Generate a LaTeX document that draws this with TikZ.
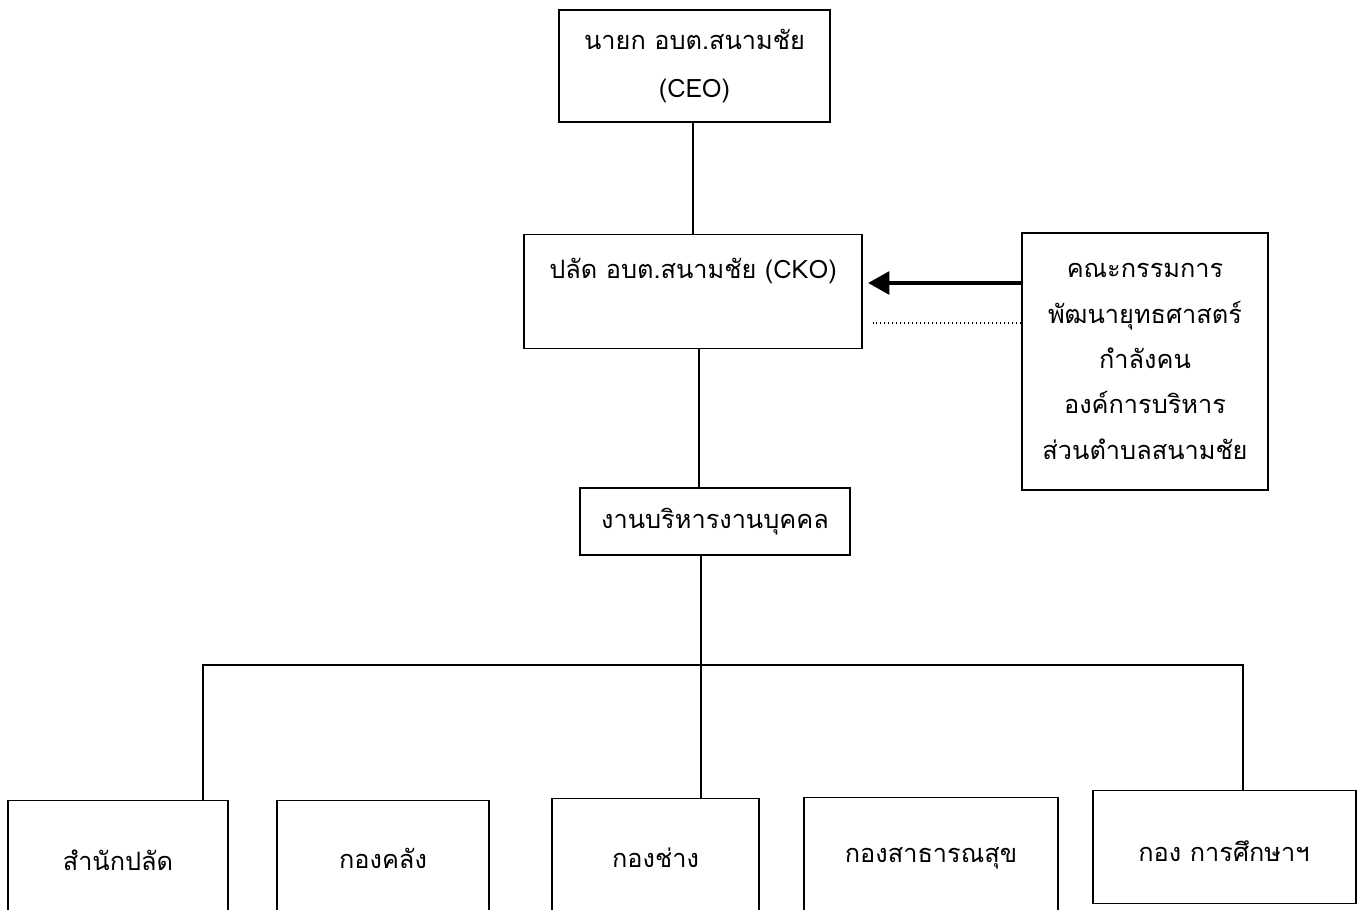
\documentclass[tikz,border=0pt]{standalone}
\usepackage{fontspec}
\newfontfamily\thaifont[Script=Thai]{Loma}
\usetikzlibrary{arrows.meta,calc}
\begin{document}
\begin{tikzpicture}[x=0.75pt,y=-0.75pt,
  box/.style 2 args={draw, line width=1.1pt, minimum width=#1*0.75pt, minimum height=#2*0.75pt, inner sep=0pt, font=\thaifont\fontsize{19}{36}\selectfont, align=center},
  txt/.style={inner sep=0pt, font=\thaifont\fontsize{19}{36}\selectfont, align=center},
  conn/.style={line width=1.1pt}]
\useasboundingbox (0,0) rectangle (1368,910);
\begin{scope}
\clip (0,0) rectangle (1368,910);
% top boxes
\node[box={271}{112}] (ceo) at (694.5,66) {นายก อบต.สนามชัย\\(CEO)};
\node[box={338}{114}, anchor=north] (cko) at (693,234) {};
\node[txt] (ckot) at (693,271) {ปลัด อบต.สนามชัย (CKO)};
\node[box={246}{257}, font=\thaifont\fontsize{19}{34}\selectfont] (com) at (1145,361.5) {คณะกรรมการ\\พัฒนายุทธศาสตร์\\กำลังคน\\องค์การบริหาร\\ส่วนตำบลสนามชัย};
\node[box={270}{67}] (hr) at (715,521.5) {งานบริหารงานบุคคล};
% bottom boxes
\node[box={220}{130}, anchor=north] (b1) at (118,800) {};
\node[txt] at (118,860) {สำนักปลัด};
\node[box={212}{130}, anchor=north] (b2) at (383,800) {};
\node[txt] at (383,858) {กองคลัง};
\node[box={207}{130}, anchor=north] (b3) at (655.5,798) {};
\node[txt] at (655.5,858) {กองช่าง};
\node[box={254}{130}, anchor=north] (b4) at (931,797) {};
\node[txt] at (931,858) {กองสาธารณสุข};
\node[box={263}{113}, anchor=north] (b5) at (1224.5,790) {};
\node[txt] at (1224,851) {กอง การศึกษาฯ};
% connectors
\draw[conn] (ceo.south -| 693,0) -- (cko.north -| 693,0);
\draw[conn] (cko.south -| 699,0) -- (hr.north -| 699,0);
\coordinate (barL) at (203,665);
\coordinate (barR) at (1243,665);
\draw[conn] (hr.south -| 701,0) -- (b3.north -| 701,0);
\draw[conn] (b1.north -| barL) -- (barL) -- (barR) -- (b5.north -| barR);
% arrow and dotted link
\draw[line width=3pt, -{Triangle[length=16pt,width=17pt]}, shorten >=4pt] (com.west |- 0,283) -- (cko.east |- 0,283);
\draw[dotted, line width=1pt] (com.west |- 0,323) -- ($(cko.east |- 0,323)+(10,0)$);
\end{scope}
\end{tikzpicture}
\end{document}
